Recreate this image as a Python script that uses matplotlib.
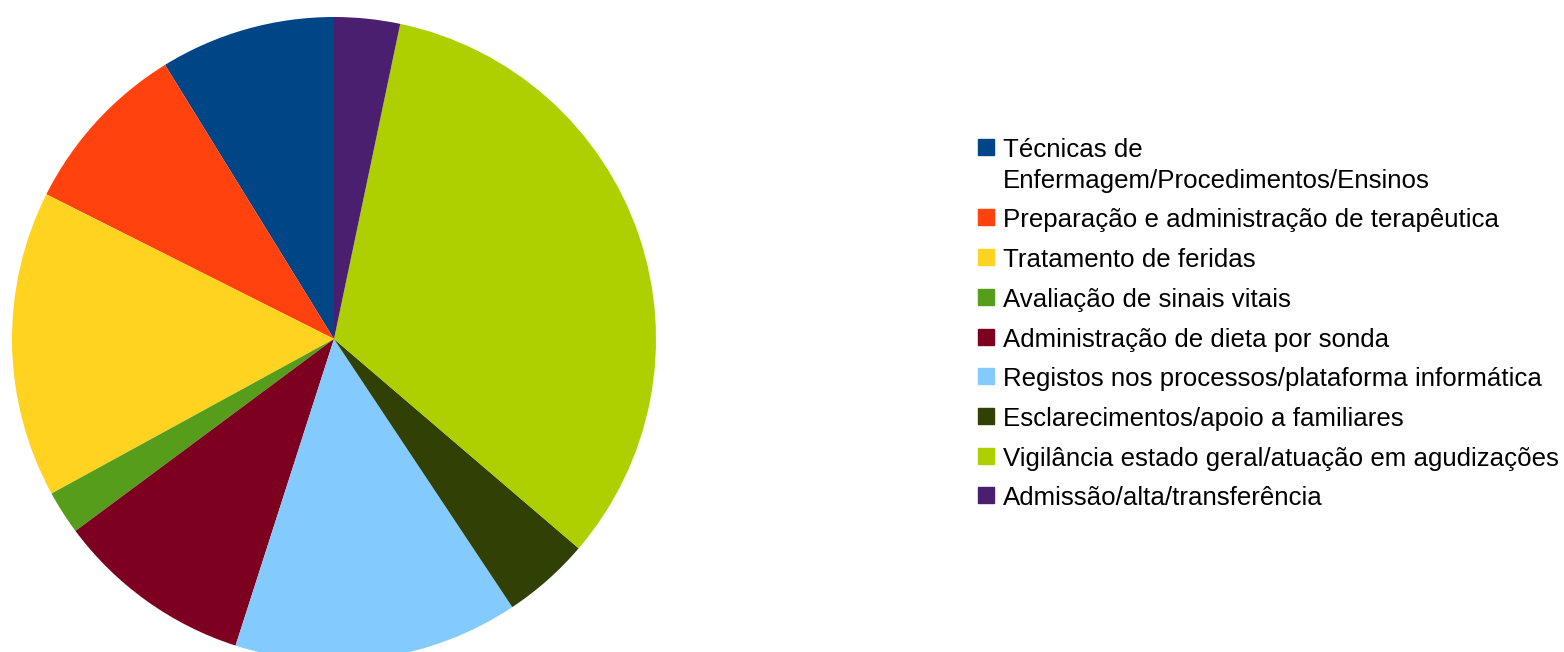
import matplotlib.pyplot as plt
from matplotlib.patches import Rectangle

plt.rcParams['font.family'] = ['Liberation Sans', 'DejaVu Sans']

# dados: número de atividades por categoria
categorias = [
    'Técnicas de\nEnfermagem/Procedimentos/Ensinos',
    'Preparação e administração de terapêutica',
    'Tratamento de feridas',
    'Avaliação de sinais vitais',
    'Administração de dieta por sonda',
    'Registos nos processos/plataforma informática',
    'Esclarecimentos/apoio a familiares',
    'Vigilância estado geral/atuação em agudizações',
    'Admissão/alta/transferência',
]
valores = [8, 8, 14, 2, 9, 13, 4, 30, 3]
cores = ['#004586', '#ff420e', '#ffd320', '#579d1c', '#7e0021',
         '#83caff', '#314004', '#aecf00', '#4b1f6f']

W, H = 1564, 652
fig = plt.figure(figsize=(W / 100, H / 100), dpi=100)

# eixo do gráfico circular (centro ~ (334, 339) px, raio 322 px)
cx, cy, r = 334, 339, 322
ax = fig.add_axes([(cx - r) / W, (H - cy - r) / H, 2 * r / W, 2 * r / H])
ax.pie(valores, colors=cores, startangle=90, counterclock=True, radius=1,
       wedgeprops=dict(linewidth=0))
ax.set_xlim(-1, 1)
ax.set_ylim(-1, 1)
ax.set_aspect('equal')
ax.axis('off')

# legenda desenhada à mão para alinhar o quadrado com a primeira linha
box_x, box_s, txt_x = 978, 16, 1003
centros = [147] + [217.5 + 39.7 * k for k in range(8)]
for cat, cor, yc in zip(categorias, cores, centros):
    fig.patches.append(Rectangle((box_x / W, (H - yc - box_s / 2) / H),
                                 box_s / W, box_s / H, color=cor,
                                 transform=fig.transFigure, figure=fig))
    for j, linha in enumerate(cat.split('\n')):
        fig.text(txt_x / W, (H - (yc + 10 + 31 * j)) / H, linha,
                 fontsize=18.65, va='baseline', ha='left', color='black')

fig.savefig('out.png', dpi=100)
